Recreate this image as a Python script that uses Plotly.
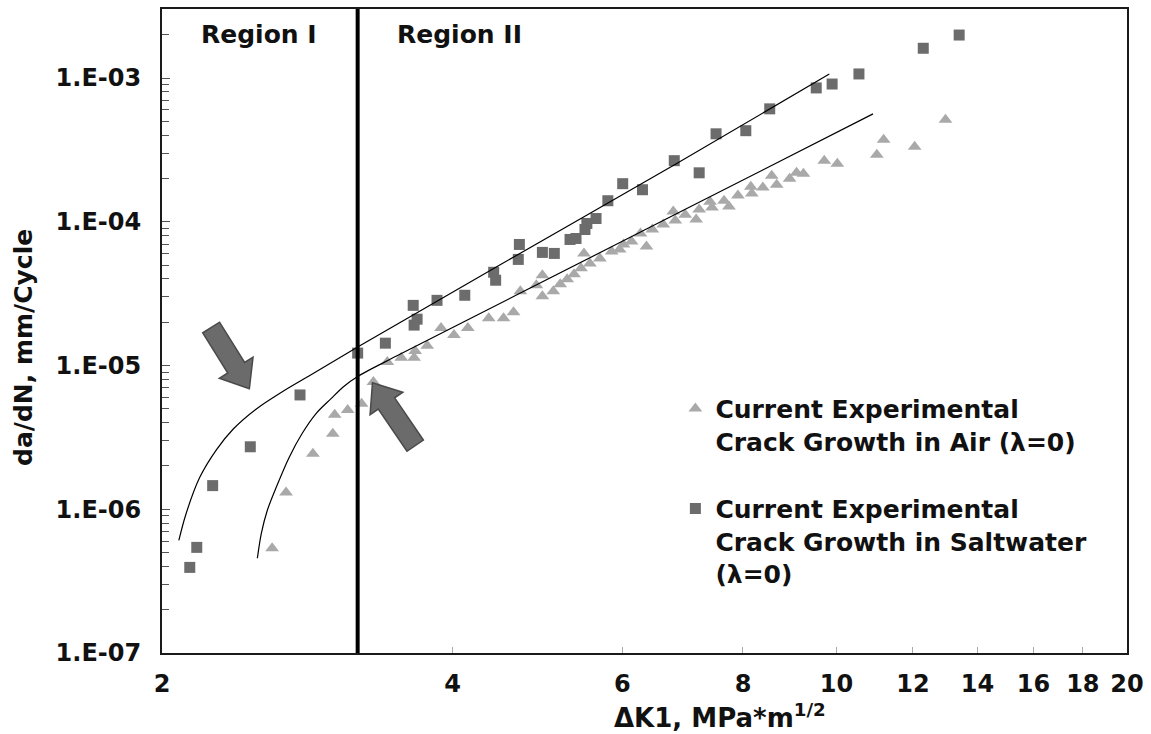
import numpy as np
import plotly.graph_objects as go

# ---------------- data ----------------
air_dk = [2.601, 2.689, 2.867, 3.006, 3.020, 3.115, 3.220, 3.312, 3.424, 3.540,
          3.650, 3.659, 3.766, 3.892, 4.014, 4.149, 4.361, 4.518, 4.627, 4.703,
          4.886, 4.957, 4.957, 5.088, 5.172, 5.259, 5.346, 5.436, 5.474, 5.552,
          5.686, 5.848, 5.960, 6.016, 6.132, 6.264, 6.354, 6.444, 6.614, 6.774,
          6.806, 6.970, 7.154, 7.206, 7.396, 7.430, 7.646, 7.737, 7.904, 8.151,
          8.170, 8.388, 8.568, 8.670, 8.941, 9.090, 9.241, 9.712, 10.02, 11.01,
          11.19, 12.05, 12.97]
air_dadn = [5.35e-7, 1.31e-6, 2.43e-6, 3.35e-6, 4.54e-6, 4.91e-6, 5.41e-6, 7.68e-6, 1.058e-5, 1.13e-5,
            1.13e-5, 1.26e-5, 1.37e-5, 1.82e-5, 1.63e-5, 1.82e-5, 2.13e-5, 2.13e-5, 2.35e-5, 3.28e-5,
            3.61e-5, 4.24e-5, 3.03e-5, 3.28e-5, 3.67e-5, 3.98e-5, 4.31e-5, 4.74e-5, 6.02e-5, 5.13e-5,
            5.56e-5, 6.22e-5, 6.42e-5, 6.95e-5, 7.30e-5, 8.29e-5, 6.73e-5, 8.83e-5, 9.57e-5, 1.18e-4,
            1.02e-4, 1.12e-4, 1.036e-4, 1.216e-4, 1.38e-4, 1.256e-4, 1.40e-4, 1.276e-4, 1.52e-4, 1.755e-4,
            1.57e-4, 1.73e-4, 2.09e-4, 1.81e-4, 1.99e-4, 2.19e-4, 2.16e-4, 2.66e-4, 2.53e-4, 2.92e-4,
            3.72e-4, 3.32e-4, 5.12e-4]

salt_dk = [2.137, 2.173, 2.257, 2.469, 2.780, 3.190, 3.408, 3.642, 3.650, 3.676,
           3.855, 4.119, 4.413, 4.434, 4.680, 4.692, 4.957, 5.100, 5.295, 5.371,
           5.487, 5.512, 5.634, 5.795, 6.004, 6.294, 6.790, 7.206, 7.502, 8.054,
           8.527, 9.528, 9.896, 10.55, 12.30, 13.40]
salt_dadn = [3.94e-7, 5.43e-7, 1.46e-6, 2.72e-6, 6.24e-6, 1.22e-5, 1.43e-5, 2.62e-5, 1.91e-5, 2.10e-5,
             2.84e-5, 3.08e-5, 4.45e-5, 3.92e-5, 5.47e-5, 6.95e-5, 6.12e-5, 6.02e-5, 7.53e-5, 7.65e-5,
             8.83e-5, 9.73e-5, 1.053e-4, 1.40e-4, 1.84e-4, 1.67e-4, 2.66e-4, 2.19e-4, 4.09e-4, 4.30e-4,
             6.10e-4, 8.53e-4, 9.08e-4, 1.067e-3, 1.61e-3, 1.99e-3]

# fitted curves
salt_fit_dk = [2.082, 2.117, 2.188, 2.278, 2.372, 2.505, 2.663, 2.840, 3.190, 4.454, 6.823, 9.83]
salt_fit_dadn = [6.07e-7, 9.20e-7, 1.66e-6, 2.60e-6, 3.63e-6, 4.99e-6, 6.55e-6, 8.46e-6, 1.343e-5,
                 4.90e-5, 2.53e-4, 1.066e-3]
air_fit_dk = [2.511, 2.535, 2.571, 2.626, 2.708, 2.793, 2.887, 2.992, 3.086, 3.190, 3.516, 4.670, 7.154, 10.91]
air_fit_dadn = [4.56e-7, 6.79e-7, 9.80e-7, 1.415e-6, 2.285e-6, 3.35e-6, 4.61e-6, 5.86e-6, 7.15e-6,
                8.39e-6, 1.182e-5, 3.116e-5, 1.333e-4, 5.63e-4]

region_boundary_dk = 3.19

x_tickvals = [2, 4, 6, 8, 10, 12, 14, 16, 18, 20]
x_ticktext = ["2", "4", "6", "8", "10", "12", "14", "16", "18", "20"]
y_tickvals = [1e-7, 1e-6, 1e-5, 1e-4, 1e-3]
y_ticktext = ["1.E-07", "1.E-06", "1.E-05", "1.E-04", "1.E-03"]

air_name = "Current Experimental<br>Crack Growth in Air (λ=0)"
salt_name = "Current Experimental<br>Crack Growth in Saltwater<br>(λ=0)"

# ---------------- layout geometry ----------------
W, H = 1151, 734
ML, MR, MT, MB = 162, 17, 7, 81
PW, PH = W - ML - MR, H - MT - MB
Y_TOP = -2.52
FONT = "DejaVu Sans"
TXT = "#111111"


def px2paper(x, y):
    return (x - ML) / PW, (H - MB - y) / PH


def block_arrow(tail, tip, shaft_half=10.0, head_half=20.0, head_len=25.0):
    t = np.array(tail, float)
    h = np.array(tip, float)
    d = h - t
    u = d / np.hypot(*d)
    n = np.array([-u[1], u[0]])
    b = h - u * head_len
    pts = [t + n * shaft_half, b + n * shaft_half, b + n * head_half, h,
           b - n * head_half, b - n * shaft_half, t - n * shaft_half]
    coords = [px2paper(*p) for p in pts]
    path = "M " + " L ".join(f"{cx:.5f},{cy:.5f}" for cx, cy in coords) + " Z"
    return dict(type="path", xref="paper", yref="paper", path=path,
                fillcolor="#6b6b6b", line=dict(color="#4a4a4a", width=1.5), layer="above")


fig = go.Figure()

fig.add_trace(go.Scatter(x=air_dk, y=air_dadn, mode="markers", name=air_name,
                         legendgroup="air",
                         marker=dict(symbol="triangle-up", size=12, color="#a9a9a9")))
fig.add_trace(go.Scatter(x=salt_dk, y=salt_dadn, mode="markers", name=salt_name,
                         legendgroup="salt",
                         marker=dict(symbol="square", size=11, color="#6c6c6c")))
fig.add_trace(go.Scatter(x=salt_fit_dk, y=salt_fit_dadn, mode="lines", showlegend=False,
                         line=dict(color="black", width=1.2, shape="spline", smoothing=0.9),
                         hoverinfo="skip"))
fig.add_trace(go.Scatter(x=air_fit_dk, y=air_fit_dadn, mode="lines", showlegend=False,
                         line=dict(color="black", width=1.2, shape="spline", smoothing=0.9),
                         hoverinfo="skip"))
fig.add_trace(go.Scatter(x=[region_boundary_dk, region_boundary_dk], y=[1e-7, 10 ** Y_TOP],
                         mode="lines", showlegend=False, line=dict(color="black", width=4),
                         hoverinfo="skip"))

minor_y = [m * 10.0 ** e for e in range(-7, -2) for m in range(2, 10)] + [2e-3, 3e-3]

fig.update_layout(
    width=W, height=H,
    margin=dict(l=ML, r=MR, t=MT, b=MB),
    paper_bgcolor="white", plot_bgcolor="white",
    font=dict(family=FONT, color=TXT),
    showlegend=True,
    legend=dict(x=0.532, y=0.415, xanchor="left", yanchor="top",
                font=dict(family=FONT, size=25, color=TXT, weight="bold"),
                valign="top", bgcolor="rgba(0,0,0,0)", tracegroupgap=32, itemwidth=30),
    xaxis=dict(type="log", range=[np.log10(2), np.log10(20)],
               tickmode="array", tickvals=x_tickvals, ticktext=x_ticktext,
               ticks="inside", ticklen=6, tickcolor="#aaaaaa", tickwidth=1,
               showgrid=False, zeroline=False, showline=True, mirror=True,
               linecolor="#1a1a1a", linewidth=2,
               tickfont=dict(family=FONT, size=24, color=TXT, weight="bold"),
               ticklabelstandoff=8),
    yaxis=dict(type="log", range=[-7, Y_TOP],
               tickmode="array", tickvals=y_tickvals, ticktext=y_ticktext,
               ticks="inside", ticklen=8, tickcolor="#555555", tickwidth=1,
               minor=dict(tickmode="array", tickvals=minor_y, ticks="inside", ticklen=7,
                          tickcolor="#555555", tickwidth=1, showgrid=False),
               showgrid=False, zeroline=False, showline=True, mirror=True,
               linecolor="#1a1a1a", linewidth=2,
               tickfont=dict(family=FONT, size=24, color=TXT, weight="bold"),
               ticklabelstandoff=14),
    shapes=[block_arrow((211.5, 326.5), (250, 388)),
            block_arrow((417, 445), (374, 382))],
)

# region labels and axis titles
xr1, yr = px2paper(260, 33)
xr2, _ = px2paper(462, 33)
fig.add_annotation(x=xr1, y=yr, xref="paper", yref="paper", text="<b>Region I</b>", showarrow=False,
                   xanchor="center", yanchor="middle",
                   font=dict(family=FONT, size=25, color=TXT))
fig.add_annotation(x=xr2, y=yr, xref="paper", yref="paper", text="<b>Region II</b>", showarrow=False,
                   xanchor="center", yanchor="middle",
                   font=dict(family=FONT, size=25, color=TXT))
xt, yt = px2paper(724, 716)
fig.add_annotation(x=xt, y=yt, xref="paper", yref="paper",
                   text="<b>ΔK1, MPa*m<sup>1/2</sup></b>", showarrow=False,
                   xanchor="center", yanchor="middle",
                   font=dict(family=FONT, size=26, color=TXT))
xy, yy = px2paper(23, 347)
fig.add_annotation(x=xy, y=yy, xref="paper", yref="paper", text="<b>da/dN, mm/Cycle</b>",
                   showarrow=False, textangle=-90, xanchor="center", yanchor="middle",
                   font=dict(family=FONT, size=25, color=TXT))

fig.write_html("out.html")
